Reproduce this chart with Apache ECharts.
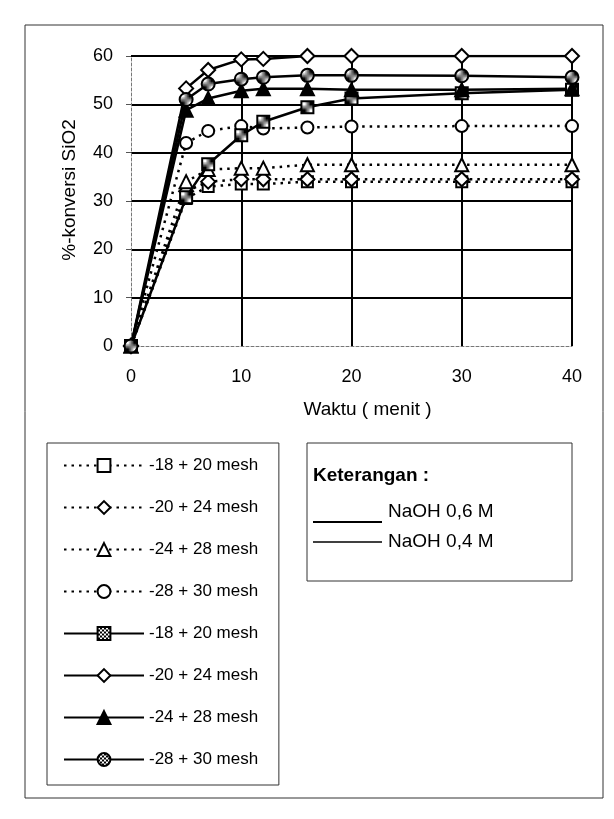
<!DOCTYPE html>
<html>
<head>
<meta charset="utf-8">
<script src="https://cdn.jsdelivr.net/npm/echarts@6/dist/echarts.min.js"></script>
<style>
  html, body { margin: 0; padding: 0; background: #fff; }
  #chart { width: 614px; height: 819px; }
</style>
</head>
<body>
<div id="chart"></div>
<script>
  // waktu (menit)
  let waktu = [0, 5, 7, 10, 12, 16, 20, 30, 40]
  let meshLabels = ['-18 + 20 mesh', '-20 + 24 mesh', '-24 + 28 mesh', '-28 + 30 mesh']
  // NaOH 0,4 M (garis titik-titik)
  let naoh04_18_20 = [0, 30.5, 33, 33.5, 33.5, 34, 34, 34, 34]
  let naoh04_20_24 = [0, 32, 34, 34.5, 34.5, 34.5, 34.5, 34.5, 34.5]
  let naoh04_24_28 = [0, 34, 36.5, 36.8, 36.8, 37.5, 37.5, 37.5, 37.5]
  let naoh04_28_30 = [0, 42, 44.5, 45.5, 45, 45.2, 45.4, 45.5, 45.5]
  // NaOH 0,6 M (garis penuh)
  let naoh06_18_20 = [0, 30.8, 37.6, 43.6, 46.4, 49.4, 51.2, 52.3, 53]
  let naoh06_20_24 = [0, 53.3, 57.1, 59.3, 59.4, 60, 60, 60, 60]
  let naoh06_24_28 = [0, 48.8, 51.2, 52.8, 53.2, 53.2, 53, 53, 53.2]
  let naoh06_28_30 = [0, 51, 54.2, 55.2, 55.6, 56, 56, 55.9, 55.6]

  // arsiran kotak-kotak untuk simbol
  function pattern() {
    let c = document.createElement('canvas')
    c.width = 4
    c.height = 4
    let ctx = c.getContext('2d')
    ctx.fillStyle = '#000'
    ctx.fillRect(0, 0, 4, 4)
    ctx.fillStyle = '#fff'
    ctx.fillRect(0, 0, 2, 2)
    ctx.fillRect(2, 2, 2, 2)
    return { image: c, repeat: 'repeat' }
  }

  function pairs(ys) {
    return waktu.map((x, i) => [x, ys[i]])
  }

  function dotted(name, ys, symbol, size) {
    return {
      name: name, type: 'line', data: pairs(ys),
      symbol: symbol, symbolSize: size,
      lineStyle: { color: '#000', width: 2.5, type: [2.5, 5] },
      itemStyle: { color: '#fff', borderColor: '#000', borderWidth: 2 },
      z: 2
    }
  }

  function solid(name, ys, symbol, size, fill) {
    return {
      name: name, type: 'line', data: pairs(ys),
      symbol: symbol, symbolSize: size,
      lineStyle: { color: '#000', width: 2.5, type: 'solid' },
      itemStyle: { color: fill, borderColor: '#000', borderWidth: 2 },
      z: 3
    }
  }

  let series = [
    dotted(meshLabels[0], naoh04_18_20, 'rect', 11),
    dotted(meshLabels[1], naoh04_20_24, 'diamond', 14),
    dotted(meshLabels[2], naoh04_24_28, 'triangle', 13),
    dotted(meshLabels[3], naoh04_28_30, 'circle', 12),
    solid(meshLabels[0] + ' ', naoh06_18_20, 'rect', 12, pattern()),
    solid(meshLabels[1] + ' ', naoh06_20_24, 'diamond', 14, '#fff'),
    solid(meshLabels[2] + ' ', naoh06_24_28, 'triangle', 13, '#000'),
    solid(meshLabels[3] + ' ', naoh06_28_30, 'circle', 13, pattern())
  ]

  let font = 'Liberation Sans, Arial, sans-serif'
  let myChart = echarts.init(document.getElementById('chart'))
  let option = {
    backgroundColor: '#fff',
    animation: false,
    textStyle: { fontFamily: font, color: '#000' },
    grid: { left: 131, right: 42, top: 56, bottom: 473 },
    xAxis: {
      type: 'value', min: 0, max: 40, interval: 10,
      name: 'Waktu ( menit )', nameLocation: 'middle', nameGap: 54,
      nameTextStyle: { fontSize: 19, color: '#000', padding: [0, 0, 0, 32] },
      axisLine: { show: true, lineStyle: { color: '#777', width: 1, type: [3, 2] } },
      axisTick: { show: false },
      axisLabel: { fontSize: 18, color: '#000', margin: 22 },
      splitLine: { show: true, showMinLine: false, lineStyle: { color: '#000', width: 2 } }
    },
    yAxis: {
      type: 'value', min: 0, max: 60, interval: 10,
      name: '%-konversi SiO2', nameLocation: 'middle', nameGap: 52,
      nameTextStyle: { fontSize: 19, color: '#000', padding: [0, 0, 0, 22] },
      axisLine: { show: true, lineStyle: { color: '#777', width: 1, type: [3, 2] } },
      axisTick: { show: true, length: 5, lineStyle: { color: '#555' } },
      axisLabel: { fontSize: 18, color: '#000', margin: 18 },
      splitLine: { show: true, showMinLine: false, lineStyle: { color: '#000', width: 2 } }
    },
    legend: {
      orient: 'vertical', left: 47, top: 443,
      padding: [14, 16, 17, 16],
      itemWidth: 80, itemHeight: 16, itemGap: 25,
      borderColor: '#333', borderWidth: 1,
      textStyle: { fontSize: 17, color: '#000', fontFamily: font },
      data: series.map(s => s.name)
    },
    graphic: [
      { type: 'rect', shape: { x: 25, y: 25, width: 578, height: 773 },
        style: { fill: 'none', stroke: '#333', lineWidth: 1 }, silent: true },
      { type: 'rect', shape: { x: 307, y: 443, width: 265, height: 138 },
        style: { fill: 'none', stroke: '#333', lineWidth: 1 }, silent: true },
      { type: 'text', left: 313, top: 466,
        style: { text: 'Keterangan :', font: 'bold 19px ' + font, fill: '#000' } },
      { type: 'line', shape: { x1: 313, y1: 522, x2: 382, y2: 522 },
        style: { stroke: '#000', lineWidth: 2 } },
      { type: 'text', left: 388, top: 502,
        style: { text: 'NaOH 0,6 M', font: '19px ' + font, fill: '#000' } },
      { type: 'line', shape: { x1: 313, y1: 542, x2: 382, y2: 542 },
        style: { stroke: '#000', lineWidth: 1.3 } },
      { type: 'text', left: 388, top: 532,
        style: { text: 'NaOH 0,4 M', font: '19px ' + font, fill: '#000' } }
    ],
    series: series
  }
  myChart.setOption(option)
</script>
</body>
</html>
